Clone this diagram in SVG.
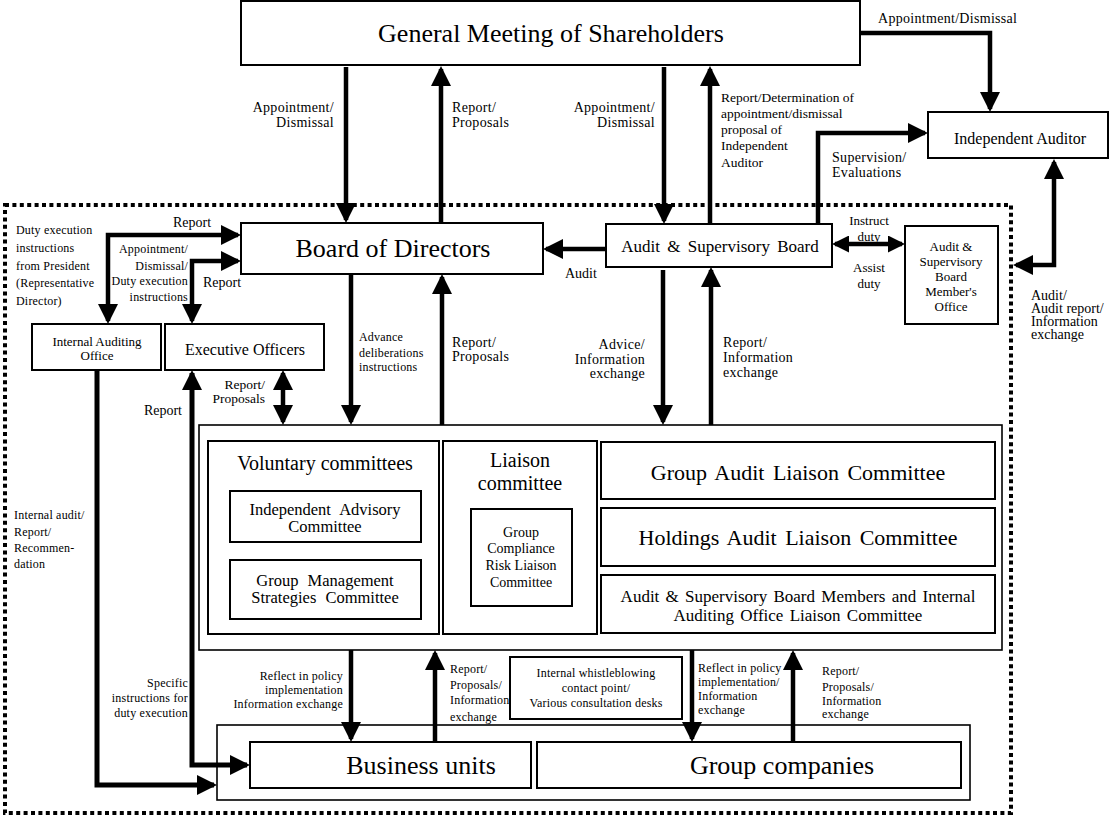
<svg xmlns="http://www.w3.org/2000/svg" width="1110" height="818" viewBox="0 0 1110 818" font-family="'Liberation Serif', 'Times New Roman', serif">
<style>
text{font-family:'Liberation Serif','Times New Roman',serif;fill:#000}
.box{fill:#fff;stroke:#000;stroke-width:2}
.cont{fill:#fff;stroke:#000;stroke-width:1.6}
.c{text-anchor:middle}
.r{text-anchor:end}
.lbl{font-size:14px;letter-spacing:0.3px}
.sml{font-size:12px;letter-spacing:0.2px}
.ln{fill:none;stroke:#000;stroke-width:4.5}
.lnw{fill:none;stroke:#000;stroke-width:5}
.a1{marker-end:url(#ah)}
.a2{marker-start:url(#ah);marker-end:url(#ah)}
</style>
<defs>
<marker id="ah" markerUnits="userSpaceOnUse" markerWidth="20" markerHeight="20" refX="17" refY="10" orient="auto-start-reverse"><path d="M0,0 L20,10 L0,20 Z" fill="#000"/></marker>
<marker id="ahs" markerUnits="userSpaceOnUse" markerWidth="17" markerHeight="17" refX="14" refY="8.5" orient="auto-start-reverse"><path d="M0,0 L17,8.5 L0,17 Z" fill="#000"/></marker>
</defs>
<rect x="0" y="0" width="1110" height="818" fill="#fff"/>

<g id="group-boundary">
<rect x="5" y="205" width="1006" height="608" fill="none" stroke="#000" stroke-width="4" stroke-dasharray="4 3.4"/>
</g>

<g id="general-meeting">
<rect class="box" x="241" y="1" width="619" height="64"/>
<text class="c" x="551" y="42" font-size="26">General Meeting of Shareholders</text>
</g>
<g id="independent-auditor">
<rect class="box" x="928" y="112" width="180" height="46"/>
<text class="c" x="1020" y="144" font-size="16">Independent Auditor</text>
</g>
<g id="board-of-directors">
<rect class="box" x="241" y="223" width="302" height="51"/>
<text class="c" x="393" y="257" font-size="26">Board of Directors</text>
</g>
<g id="audit-supervisory-board">
<rect class="box" x="606" y="224" width="226" height="43"/>
<text class="c" x="720" y="252" font-size="17" word-spacing="3">Audit &amp; Supervisory Board</text>
</g>
<g id="asb-members-office">
<rect class="box" x="905" y="226" width="93" height="98"/>
<text class="c" x="951" y="251" font-size="13">Audit &amp;</text>
<text class="c" x="951" y="266" font-size="13">Supervisory</text>
<text class="c" x="951" y="281" font-size="13">Board</text>
<text class="c" x="951" y="296" font-size="13">Member's</text>
<text class="c" x="951" y="311" font-size="13">Office</text>
</g>
<g id="internal-auditing-office">
<rect class="box" x="32" y="324" width="129" height="46"/>
<text class="c" x="97" y="346" font-size="13">Internal Auditing</text>
<text class="c" x="97" y="360" font-size="13">Office</text>
</g>
<g id="executive-officers">
<rect class="box" x="165" y="324" width="159" height="46"/>
<text class="c" x="245" y="355" font-size="16">Executive Officers</text>
</g>

<g id="committees">
<rect class="cont" x="199" y="425" width="803" height="225"/>
</g>
<g id="voluntary-committees">
<rect class="box" x="208" y="441" width="231" height="193"/>
<text class="c" x="325" y="470" font-size="20">Voluntary committees</text>
</g>
<g id="independent-advisory-committee">
<rect class="box" x="230" y="491" width="191" height="51"/>
<text class="c" x="325" y="515" font-size="16.5" word-spacing="5">Independent Advisory</text>
<text class="c" x="325" y="532" font-size="16.5">Committee</text>
</g>
<g id="group-management-strategies-committee">
<rect class="box" x="230" y="560" width="191" height="59"/>
<text class="c" x="325" y="586" font-size="16.5" word-spacing="5">Group Management</text>
<text class="c" x="325" y="603" font-size="16.5" word-spacing="5">Strategies Committee</text>
</g>
<g id="liaison-committee">
<rect class="box" x="443" y="441" width="154" height="193"/>
<text class="c" x="520" y="467" font-size="20">Liaison</text>
<text class="c" x="520" y="490" font-size="20">committee</text>
</g>
<g id="group-compliance-risk-liaison-committee">
<rect class="box" x="471" y="509" width="101" height="97"/>
<text class="c" x="521" y="537" font-size="14">Group</text>
<text class="c" x="521" y="553" font-size="14">Compliance</text>
<text class="c" x="521" y="570" font-size="14">Risk Liaison</text>
<text class="c" x="521" y="587" font-size="14">Committee</text>
</g>
<g id="group-audit-liaison-committee">
<rect class="box" x="601" y="442" width="394" height="57"/>
<text class="c" x="798" y="480" font-size="22" word-spacing="3">Group Audit Liaison Committee</text>
</g>
<g id="holdings-audit-liaison-committee">
<rect class="box" x="601" y="508" width="394" height="58"/>
<text class="c" x="798" y="545" font-size="22" word-spacing="3">Holdings Audit Liaison Committee</text>
</g>
<g id="asb-members-iao-liaison-committee">
<rect class="box" x="601" y="575" width="394" height="58"/>
<text class="c" x="798" y="602" font-size="17" word-spacing="2">Audit &amp; Supervisory Board Members and Internal</text>
<text class="c" x="798" y="621" font-size="17" word-spacing="2">Auditing Office Liaison Committee</text>
</g>

<g id="whistleblowing-desk">
<rect class="box" x="510" y="657" width="172" height="62"/>
<text class="c sml" x="596" y="677">Internal whistleblowing</text>
<text class="c sml" x="596" y="692">contact point/</text>
<text class="c sml" x="596" y="707">Various consultation desks</text>
</g>

<g id="operations">
<rect class="cont" x="217" y="725" width="753" height="75"/>
</g>
<g id="business-units">
<rect class="box" x="250" y="742" width="281" height="46"/>
<text class="c" x="421" y="774" font-size="26">Business units</text>
</g>
<g id="group-companies">
<rect class="box" x="537" y="742" width="424" height="46"/>
<text class="c" x="782" y="774" font-size="26">Group companies</text>
</g>

<g id="connectors">
<path class="ln a1" d="M346,67 V220"/>
<path class="ln a1" d="M441,223 V69"/>
<path class="ln a1" d="M664,67 V221"/>
<path class="ln a1" d="M710,224 V69"/>
<path class="ln a1" d="M860,33 H990 V109"/>
<path class="ln a1" d="M818,224 V133 H925"/>
<path class="ln a2" d="M1054,162 V265 H1016"/>
<path class="ln a1" d="M606,249 H546"/>
<path class="ln" d="M835,244 H902" marker-start="url(#ahs)" marker-end="url(#ahs)"/>
<path class="ln a2" d="M238,235 H108 V321"/>
<path class="ln a2" d="M238,261 H192 V321"/>
<path class="ln a2" d="M283,373 V422"/>
<path class="ln a1" d="M351,275 V422"/>
<path class="ln a1" d="M442,425 V277"/>
<path class="ln a1" d="M663,270 V422"/>
<path class="ln a1" d="M711,425 V270"/>
<path class="lnw a2" d="M192,373 V765 H247"/>
<path class="lnw a1" d="M97,370 V785 H214"/>
<path class="ln a1" d="M351,650 V739"/>
<path class="ln a1" d="M435,742 V653"/>
<path class="ln a1" d="M692,650 V739"/>
<path class="ln a1" d="M793,742 V653"/>
</g>

<g id="labels">
<text class="lbl r" x="334" y="112">Appointment/</text>
<text class="lbl r" x="334" y="127">Dismissal</text>
<text class="lbl" x="452" y="112">Report/</text>
<text class="lbl" x="452" y="127">Proposals</text>
<text class="lbl r" x="655" y="112">Appointment/</text>
<text class="lbl r" x="655" y="127">Dismissal</text>
<text font-size="13.5" x="721" y="102">Report/Determination of</text>
<text font-size="13.5" x="721" y="118">appointment/dismissal</text>
<text font-size="13.5" x="721" y="134">proposal of</text>
<text font-size="13.5" x="721" y="150">Independent</text>
<text font-size="13.5" x="721" y="167">Auditor</text>
<text class="lbl" x="878" y="23">Appointment/Dismissal</text>
<text class="lbl" x="832" y="162">Supervision/</text>
<text class="lbl" x="832" y="177">Evaluations</text>
<text class="c" font-size="13" x="869" y="225">Instruct</text>
<text class="c" font-size="13" x="869" y="241">duty</text>
<text class="c" font-size="13" x="869" y="272">Assist</text>
<text class="c" font-size="13" x="869" y="288">duty</text>
<text font-size="14" x="1031" y="300">Audit/</text>
<text font-size="14" x="1031" y="313">Audit report/</text>
<text font-size="14" x="1031" y="326">Information</text>
<text font-size="14" x="1031" y="339">exchange</text>
<text font-size="14" x="565" y="278">Audit</text>
<text class="sml" x="16" y="234">Duty execution</text>
<text class="sml" x="16" y="252">instructions</text>
<text class="sml" x="16" y="270">from President</text>
<text class="sml" x="16" y="287">(Representative</text>
<text class="sml" x="16" y="305">Director)</text>
<text class="c" font-size="14" x="192" y="227">Report</text>
<text class="sml r" x="188" y="253">Appointment/</text>
<text class="sml r" x="188" y="270">Dismissal/</text>
<text class="sml r" x="188" y="285">Duty execution</text>
<text class="sml r" x="188" y="301">instructions</text>
<text font-size="14" x="203" y="287">Report</text>
<text class="r" font-size="13.5" x="265" y="389">Report/</text>
<text class="r" font-size="13.5" x="265" y="403">Proposals</text>
<text class="r" font-size="14" x="182" y="415">Report</text>
<text class="sml" x="359" y="341">Advance</text>
<text class="sml" x="359" y="357">deliberations</text>
<text class="sml" x="359" y="371">instructions</text>
<text class="lbl" x="452" y="347">Report/</text>
<text class="lbl" x="452" y="361">Proposals</text>
<text class="lbl r" x="645" y="349">Advice/</text>
<text class="lbl r" x="645" y="364">Information</text>
<text class="lbl r" x="645" y="378">exchange</text>
<text class="lbl" x="723" y="347">Report/</text>
<text class="lbl" x="723" y="362">Information</text>
<text class="lbl" x="723" y="377">exchange</text>
<text class="sml" x="14" y="519">Internal audit/</text>
<text class="sml" x="14" y="536">Report/</text>
<text class="sml" x="14" y="552">Recommen-</text>
<text class="sml" x="14" y="568">dation</text>
<text class="sml r" x="188" y="687">Specific</text>
<text class="sml r" x="188" y="702">instructions for</text>
<text class="sml r" x="188" y="717">duty execution</text>
<text class="sml r" x="343" y="680">Reflect in policy</text>
<text class="sml r" x="343" y="694">implementation</text>
<text class="sml r" x="343" y="708">Information exchange</text>
<text class="sml" x="450" y="673">Report/</text>
<text class="sml" x="450" y="689">Proposals/</text>
<text class="sml" x="450" y="704">Information</text>
<text class="sml" x="450" y="721">exchange</text>
<text class="sml" x="698" y="672">Reflect in policy</text>
<text class="sml" x="698" y="686">implementation/</text>
<text class="sml" x="698" y="700">Information</text>
<text class="sml" x="698" y="714">exchange</text>
<text class="sml" x="822" y="675">Report/</text>
<text class="sml" x="822" y="691">Proposals/</text>
<text class="sml" x="822" y="705">Information</text>
<text class="sml" x="822" y="718">exchange</text>
</g>
</svg>
